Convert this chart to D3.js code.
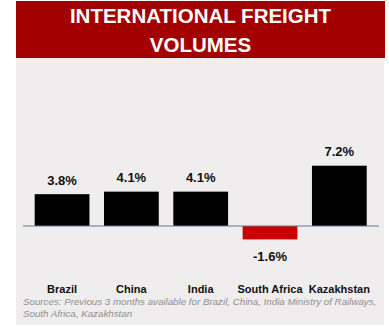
<!DOCTYPE html>
<html>
<head>
<meta charset="utf-8">
<script src="https://cdn.jsdelivr.net/npm/d3@7"></script>
<style>
  html, body { margin: 0; padding: 0; background: #ffffff; }
  svg { display: block; font-family: "Liberation Sans", Arial, sans-serif; }
</style>
</head>
<body>
<svg id="chart" width="389" height="327"></svg>
<script>
// Freight volume growth by country (%)
const countries = ["Brazil", "China", "India", "South Africa", "Kazakhstan"];
const growth = [3.8, 4.1, 4.1, -1.6, 7.2];
const valueLabels = ["3.8%", "4.1%", "4.1%", "-1.6%", "7.2%"];
const titleLines = ["INTERNATIONAL FREIGHT", "VOLUMES"];
const sourceLines = [
  "Sources: Previous 3 months available for Brazil, China, India Ministry of Railways,",
  "South Africa, Kazakhstan"
];

const svg = d3.select("#chart");

// Panel background and title banner
svg.append("rect").attr("x", 16).attr("y", 58).attr("width", 368).attr("height", 267)
  .attr("fill", "#efeded");
svg.append("rect").attr("x", 16).attr("y", 1).attr("width", 369).attr("height", 57)
  .attr("fill", "#a30000");

svg.append("g").selectAll("text").data(titleLines).join("text")
  .attr("x", 200.5)
  .attr("y", (d, i) => 23 + i * 28.5)
  .attr("text-anchor", "middle")
  .attr("fill", "#ffffff")
  .attr("font-weight", "bold")
  .attr("font-size", 20.5)
  .text(d => d);

// Scales
const x = d3.scaleBand()
  .domain(countries)
  .range([27.4, 374])
  .paddingInner(0.21)
  .paddingOuter(0.105);

const y = d3.scaleLinear()
  .domain([-2, 8])
  .range([242.75, 159]);

const data = countries.map((c, i) => ({ c, v: growth[i], label: valueLabels[i] }));

// Bars
svg.append("g").selectAll("rect").data(data).join("rect")
  .attr("x", d => x(d.c))
  .attr("width", x.bandwidth())
  .attr("y", d => y(Math.max(0, d.v)))
  .attr("height", d => Math.abs(y(d.v) - y(0)))
  .attr("fill", d => d.v < 0 ? "#cc0000" : "#000000");

// Zero baseline
svg.append("line")
  .attr("x1", 23).attr("x2", 379)
  .attr("y1", y(0)).attr("y2", y(0))
  .attr("stroke", "#5f7f86").attr("stroke-width", 1);

// Value labels
svg.append("g").selectAll("text").data(data).join("text")
  .attr("x", d => x(d.c) + x.bandwidth() / 2)
  .attr("y", d => d.v < 0 ? y(d.v) + 22 : y(d.v) - 9.5)
  .attr("text-anchor", "middle")
  .attr("font-weight", "bold")
  .attr("font-size", 13)
  .attr("fill", "#111111")
  .text(d => d.label);

// Category axis labels
const xAxis = d3.axisBottom(x).tickSize(0).tickPadding(0);
const axisG = svg.append("g").attr("transform", "translate(0,285)").call(xAxis);
axisG.select(".domain").remove();
axisG.selectAll("text")
  .attr("font-family", "\"Liberation Sans\", Arial, sans-serif")
  .attr("font-weight", "bold")
  .attr("font-size", 11)
  .attr("fill", "#111111");

// Source note
svg.append("g").selectAll("text").data(sourceLines).join("text")
  .attr("x", 23)
  .attr("y", (d, i) => 305 + i * 11.5)
  .attr("font-style", "italic")
  .attr("font-size", 9.75)
  .attr("fill", "#8f8f8f")
  .text(d => d);
</script>
</body>
</html>
